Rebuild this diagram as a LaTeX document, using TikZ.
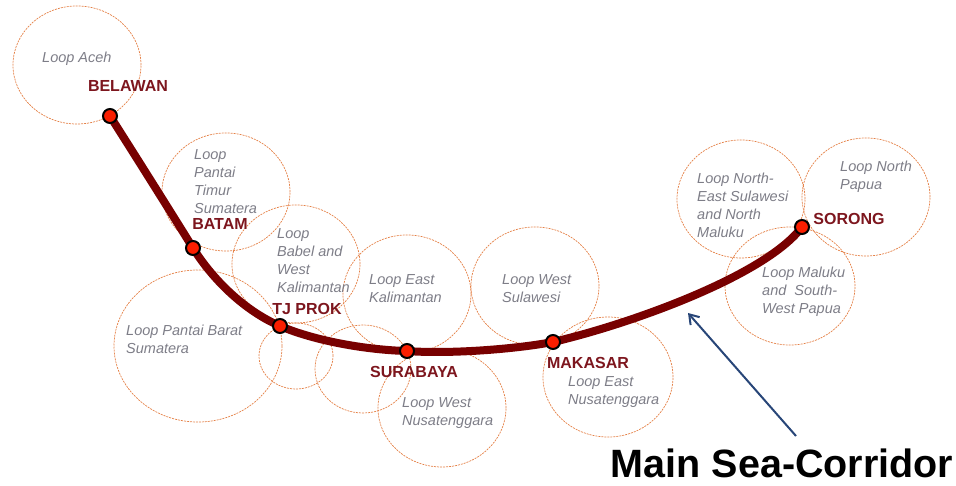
\documentclass[tikz,border=0pt]{standalone}
\usepackage{fontspec}
\setmainfont{Liberation Sans}
\usetikzlibrary{shapes.geometric,arrows.meta}
\definecolor{loopgray}{RGB}{125,125,135}
\definecolor{loopedge}{RGB}{228,128,70}
\definecolor{portred}{RGB}{125,22,30}
\definecolor{corridorred}{RGB}{120,0,0}
\definecolor{dotred}{RGB}{250,30,0}
\definecolor{arrowblue}{RGB}{40,70,120}
\begin{document}
\begin{tikzpicture}[x=1pt,y=-1pt,
 loop/.style={ellipse, draw=loopedge, line width=0.7pt, dash pattern=on 2pt off 1pt, minimum width=128pt, minimum height=118pt, inner sep=0pt},
 looptext/.style={anchor=west, align=left, inner sep=0pt, text=loopgray, font=\fontsize{14.5}{18}\selectfont\itshape},
 port/.style={circle, draw=black, line width=2pt, fill=dotred, minimum size=14pt, inner sep=0pt},
 portlabel/.style={text=portred, font=\fontsize{16}{18}\selectfont\bfseries, inner sep=0pt},
 corridorline/.style={draw=corridorred, line width=8pt, line cap=round},
 pointer/.style={draw=arrowblue, line width=2pt, -{Straight Barb[length=9pt,width=12pt]}},
]
\useasboundingbox (0,0) rectangle (956,486);

% loop circles
\node[loop] (caceh) at (77,65) {};
\node[loop] (ctimur) at (226,192) {};
\node[loop] (cbabel) at (296,264) {};
\node[loop] (ceastkal) at (407,294) {};
\node[loop, minimum width=168pt, minimum height=152pt] (cbarat) at (198,346) {};
\node[loop] (cwestsul) at (535,286) {};
\node[loop] (cwestnusa) at (442,408) {};
\node[loop, minimum width=130pt, minimum height=120pt] (ceastnusa) at (608,377) {};
\node[loop, minimum width=96pt, minimum height=88pt] (csmalla) at (363,369) {};
\node[loop, minimum width=74pt, minimum height=66pt] (csmallb) at (296,356) {};
\node[loop] (cnesul) at (741,199) {};
\node[loop] (cnpapua) at (866,197) {};
\node[loop, minimum width=130pt] (cmaluku) at (790,286) {};

% loop texts
\node[looptext] (taceh) at (42,59) {Loop Aceh};
\node[looptext] (ttimur) at (194,182) {Loop\\Pantai\\Timur\\Sumatera};
\node[looptext] (tbabel) at (277,261) {Loop\\Babel and\\West\\Kalimantan};
\node[looptext] (teastkal) at (369,289) {Loop East\\Kalimantan};
\node[looptext] (tbarat) at (126,339) {Loop Pantai Barat\\Sumatera};
\node[looptext] (twestsul) at (502,288.5) {Loop West\\Sulawesi};
\node[looptext] (twestnusa) at (402,413) {Loop West\\Nusatenggara};
\node[looptext] (teastnusa) at (568,392.5) {Loop East\\Nusatenggara};
\node[looptext] (tnesul) at (697,205) {Loop North-\\East Sulawesi\\and North\\Maluku};
\node[looptext] (tnpapua) at (840,177) {Loop North\\Papua};
\node[looptext] (tmaluku) at (762,292) {Loop Maluku\\and\ \ South-\\West Papua};

% port positions
\coordinate (pbelawan) at (110,116);
\coordinate (pbatam) at (193,248);
\coordinate (ptjprok) at (280,326);
\coordinate (psurabaya) at (407,351);
\coordinate (pmakasar) at (553,342);
\coordinate (psorong) at (802,227);

% corridor
\draw[corridorline] (pbelawan) .. controls (138,160) and (165,203) .. (pbatam)
  .. controls (213,280) and (245,311) .. (ptjprok)
  .. controls (315,341) and (367,350) .. (psurabaya)
  .. controls (445,354) and (510,350) .. (pmakasar)
  .. controls (630,324) and (765,276) .. (psorong);

% ports
\node[port] (belawan) at (pbelawan) {};
\node[port] (batam) at (pbatam) {};
\node[port] (tjprok) at (ptjprok) {};
\node[port] (surabaya) at (psurabaya) {};
\node[port] (makasar) at (pmakasar) {};
\node[port] (sorong) at (psorong) {};

% port labels
\node[portlabel] (lbelawan) at (128,86) {BELAWAN};
\node[portlabel] (lbatam) at (220,224) {BATAM};
\node[portlabel] (ltjprok) at (307,309) {TJ PROK};
\node[portlabel] (lsurabaya) at (414,372) {SURABAYA};
\node[portlabel] (lmakasar) at (588,363) {MAKASAR};
\node[portlabel] (lsorong) at (849,219) {SORONG};

% title and pointer
\node[inner sep=0pt, font=\fontsize{39.5}{42}\selectfont\bfseries] (title) at (782,463) {Main Sea-Corridor};
\coordinate (arrowtail) at (796,436);
\coordinate (arrowtip) at (688,313);
\draw[pointer] (arrowtail) -- (arrowtip);
\end{tikzpicture}
\end{document}
